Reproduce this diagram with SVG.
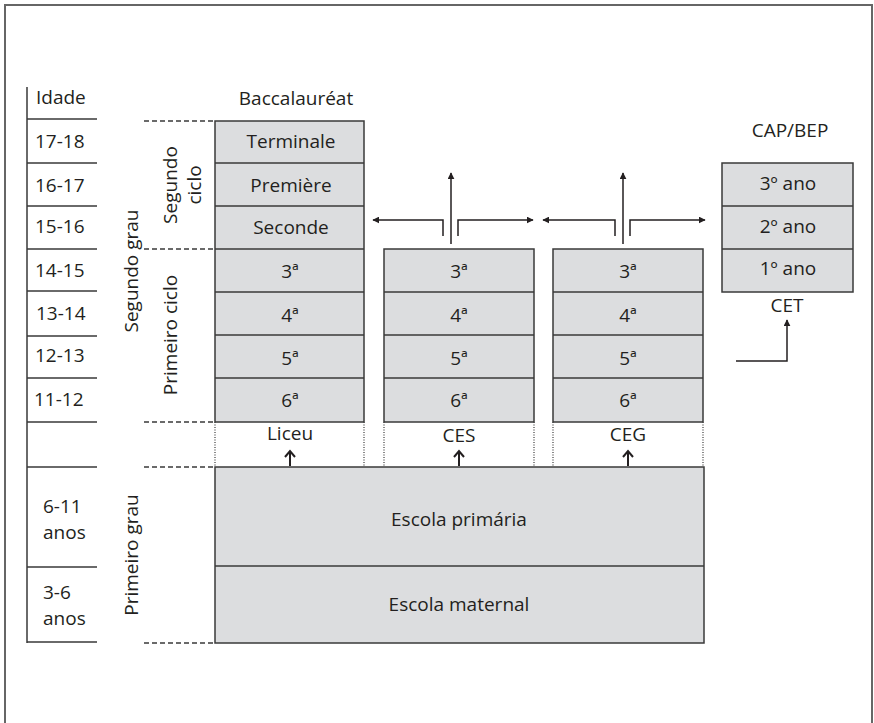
<svg xmlns="http://www.w3.org/2000/svg" width="874" height="723" viewBox="0 0 874 723">
<defs>
<style>
text{font-family:"Open Sans","Liberation Sans",sans-serif;font-size:19px;fill:#231f20}
.m{text-anchor:middle}
.box{fill:#dcdddf;stroke:#3a3a3a;stroke-width:1.5}
.ln{stroke:#3a3a3a;stroke-width:1.5;fill:none}
.dash{stroke:#3a3a3a;stroke-width:1.3;stroke-dasharray:5 3;fill:none}
.dot{stroke:#3a3a3a;stroke-width:1.2;stroke-dasharray:1 1.5;fill:none}
.arr{stroke:#231f20;stroke-width:1.5;fill:none;marker-end:url(#ah)}
</style>
<marker id="ah" viewBox="0 0 10 10" refX="9" refY="5" markerWidth="7" markerHeight="7" markerUnits="userSpaceOnUse" orient="auto">
<path d="M0,0 L10,5 L0,10 z" fill="#231f20"/>
</marker>
</defs>
<rect width="874" height="723" fill="#fff"/>
<path d="M5,723 V5 H872 V723" fill="none" stroke="#666" stroke-width="2"/>

<g id="ages">
<path class="ln" d="M27,87 V643 M27,119 H97 M27,163 H97 M27,206 H97 M27,249 H97 M27,291 H97 M27,336 H97 M27,378 H97 M27,422 H97 M27,467 H97 M27,567 H97 M27,642 H97"/>
<text x="36" y="104">Idade</text>
<text x="35" y="148">17-18</text>
<text x="35" y="192">16-17</text>
<text x="35" y="233">15-16</text>
<text x="35" y="277">14-15</text>
<text x="36" y="320">13-14</text>
<text x="35" y="362">12-13</text>
<text x="34" y="406">11-12</text>
<text x="43" y="513">6-11</text>
<text x="43" y="539">anos</text>
<text x="43" y="599">3-6</text>
<text x="43" y="625">anos</text>
</g>

<g id="levels">
<path class="dash" d="M144,121 H215 M144,249 H215 M144,422 H215 M144,467 H215 M144,643 H215"/>
<text class="m" transform="translate(138,271) rotate(-90)">Segundo grau</text>
<text class="m" transform="translate(177,185) rotate(-90)">Segundo</text>
<text class="m" transform="translate(201,185) rotate(-90)">ciclo</text>
<text class="m" transform="translate(177,335) rotate(-90)">Primeiro ciclo</text>
<text class="m" transform="translate(138,555) rotate(-90)">Primeiro grau</text>
</g>

<g id="liceu">
<text class="m" x="296" y="105">Baccalauréat</text>
<rect class="box" x="215" y="121" width="149" height="301"/>
<path class="ln" d="M215,163 H364 M215,206 H364 M215,249 H364 M215,292 H364 M215,335 H364 M215,378 H364"/>
<text class="m" x="291" y="148">Terminale</text>
<text class="m" x="291" y="192">Première</text>
<text class="m" x="291" y="234">Seconde</text>
<text class="m" x="290" y="278">3ª</text>
<text class="m" x="290" y="322">4ª</text>
<text class="m" x="290" y="365">5ª</text>
<text class="m" x="290" y="407">6ª</text>
<text class="m" x="290" y="440">Liceu</text>
</g>

<g id="ces">
<rect class="box" x="384" y="249" width="150" height="173"/>
<path class="ln" d="M384,292 H534 M384,335 H534 M384,378 H534"/>
<text class="m" x="459" y="278">3ª</text>
<text class="m" x="459" y="322">4ª</text>
<text class="m" x="459" y="365">5ª</text>
<text class="m" x="459" y="407">6ª</text>
<text class="m" x="459" y="442">CES</text>
</g>

<g id="ceg">
<rect class="box" x="553" y="249" width="150" height="173"/>
<path class="ln" d="M553,292 H703 M553,335 H703 M553,378 H703"/>
<text class="m" x="628" y="278">3ª</text>
<text class="m" x="628" y="322">4ª</text>
<text class="m" x="628" y="365">5ª</text>
<text class="m" x="628" y="407">6ª</text>
<text class="m" x="628" y="441">CEG</text>
</g>

<g id="capbep">
<text class="m" x="790" y="137">CAP/BEP</text>
<rect class="box" x="722" y="163" width="131" height="129"/>
<path class="ln" d="M722,206 H853 M722,249 H853"/>
<text class="m" x="788" y="190">3º ano</text>
<text class="m" x="788" y="233">2º ano</text>
<text class="m" x="788" y="275">1º ano</text>
<text class="m" x="787" y="312">CET</text>
</g>

<g id="primaria">
<rect class="box" x="215" y="467" width="489" height="176"/>
<path class="ln" d="M215,566 H704"/>
<text class="m" x="459" y="526">Escola primária</text>
<text class="m" x="459" y="611">Escola maternal</text>
</g>

<g id="connectors">
<path class="dot" d="M215,422 V467 M364,422 V467 M384,422 V467 M534,422 V467 M553,422 V467 M703,422 V467"/>
<path class="arr" d="M443,236 V220 H373"/>
<path class="arr" d="M458,236 V220 H533"/>
<path class="arr" d="M451,244 V173"/>
<path class="arr" d="M615,236 V220 H543"/>
<path class="arr" d="M630,236 V220 H705"/>
<path class="arr" d="M623,244 V173"/>
<path class="arr" d="M736,361 H787 V320"/>
<path d="M290,466 V452 M285,457 L290,451 L295,457" stroke="#231f20" stroke-width="2" fill="none"/>
<path d="M459,466 V452 M454,457 L459,451 L464,457" stroke="#231f20" stroke-width="2" fill="none"/>
<path d="M628,466 V452 M623,457 L628,451 L633,457" stroke="#231f20" stroke-width="2" fill="none"/>
</g>
</svg>
